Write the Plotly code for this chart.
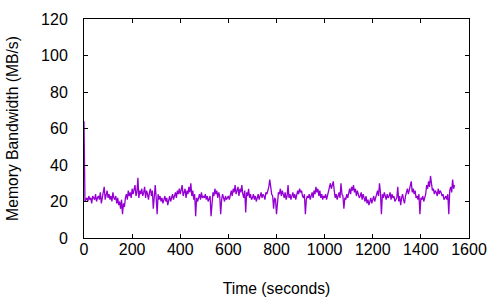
import plotly.graph_objects as go

time_s = list(range(0, 1544, 4))

bandwidth = [
    64, 20, 21, 22, 20, 23, 21, 22, 19, 23, 22, 21, 24, 20, 22, 23, 21, 25, 19, 22, 24, 28, 21, 23, 26,
    22, 24, 21, 23, 20, 25, 22, 21, 23, 19, 22, 18, 20, 16, 21, 13, 19, 17, 22, 24, 21, 26, 23, 25, 22,
    27, 24, 26, 29, 23, 25, 33, 22, 26, 24, 27, 23, 25, 28, 22, 26, 24, 21, 25, 27, 23, 26, 16, 24, 29,
    22, 13, 24, 21, 23, 20, 22, 19, 21, 23, 20, 22, 18, 21, 23, 20, 22, 24, 21, 23, 25, 22, 26, 24, 27,
    24, 26, 29, 23, 25, 27, 22, 26, 24, 28, 25, 30, 23, 26, 21, 24, 12, 22, 20, 23, 24, 21, 25, 22, 23,
    22, 24, 21, 23, 20, 22, 23, 12, 21, 25, 23, 27, 24, 26, 22, 25, 23, 13, 21, 24, 22, 20, 23, 21, 22,
    23, 21, 24, 26, 23, 27, 25, 29, 24, 26, 28, 23, 27, 25, 29, 24, 22, 26, 14, 25, 23, 27, 22, 24, 21,
    22, 24, 21, 23, 20, 22, 24, 21, 23, 25, 22, 24, 23, 21, 25, 24, 26, 28, 32, 27, 24, 23, 16, 22, 21,
    13, 22, 25, 24, 27, 23, 26, 24, 22, 25, 21, 23, 29, 22, 24, 21, 23, 25, 22, 24, 21, 23, 26, 24, 27,
    25, 26, 23, 22, 24, 13, 21, 23, 22, 24, 21, 23, 25, 22, 26, 24, 28, 25, 27, 23, 26, 22, 24, 21, 23,
    22, 24, 21, 23, 25, 28, 30, 27, 29, 31, 26, 22, 24, 21, 23, 25, 22, 30, 24, 23, 16, 22, 21, 24, 22,
    25, 27, 24, 28, 26, 29, 25, 27, 23, 26, 24, 22, 23, 25, 21, 24, 22, 20, 23, 19, 21, 18, 20, 22, 19,
    21, 23, 20, 22, 24, 26, 23, 30, 25, 13, 24, 22, 25, 23, 21, 24, 22, 23, 25, 21, 24, 22, 23, 20, 21,
    22, 28, 20, 23, 18, 22, 24, 21, 19, 23, 25, 27, 24, 26, 28, 31, 25, 27, 24, 26, 22, 23, 21, 24, 13,
    22, 21, 23, 20, 22, 24, 29, 27, 31, 28, 34, 30, 26, 27, 24, 26, 25, 23, 27, 24, 26, 25, 23, 24, 21,
    22, 23, 21, 24, 13, 26, 28, 25, 32, 27, 29,
]

x_ticks = [0, 200, 400, 600, 800, 1000, 1200, 1400, 1600]
y_ticks = [0, 20, 40, 60, 80, 100, 120]

fig = go.Figure()
fig.add_trace(go.Scatter(
    x=time_s, y=bandwidth, mode="lines",
    line=dict(color="#9400D3", width=1.3),
    showlegend=False,
))

font_family = "Liberation Sans, Arial, sans-serif"
fig.update_layout(
    width=500, height=300,
    margin=dict(l=84, r=31, t=19, b=62),
    paper_bgcolor="white", plot_bgcolor="white",
    font=dict(family=font_family, size=16, color="black"),
)
fig.update_xaxes(
    range=[0, 1600], tickvals=x_ticks, ticktext=[str(v) for v in x_ticks],
    ticks="inside", ticklen=4, tickcolor="black", tickwidth=1,
    showline=True, linecolor="black", linewidth=1, mirror="ticks",
    showgrid=False, zeroline=False, automargin=False,
    title=dict(text="Time (seconds)", font=dict(size=15.7), standoff=25),
    ticklabelstandoff=-3,
)
fig.update_yaxes(
    range=[0, 120], tickvals=y_ticks, ticktext=[str(v) for v in y_ticks],
    ticks="inside", ticklen=4, tickcolor="black", tickwidth=1,
    showline=True, linecolor="black", linewidth=1, mirror="ticks",
    showgrid=False, zeroline=False, automargin=False,
    title=dict(text="Memory Bandwidth (MB/s)", font=dict(size=15.7), standoff=18),
    ticklabelstandoff=12,
)

# remove the browser's default 8px body margin so the figure sits at the window origin
fig.write_html(
    "out.html",
    config={"displayModeBar": False},
    post_script="document.body.style.margin='0px';",
)
